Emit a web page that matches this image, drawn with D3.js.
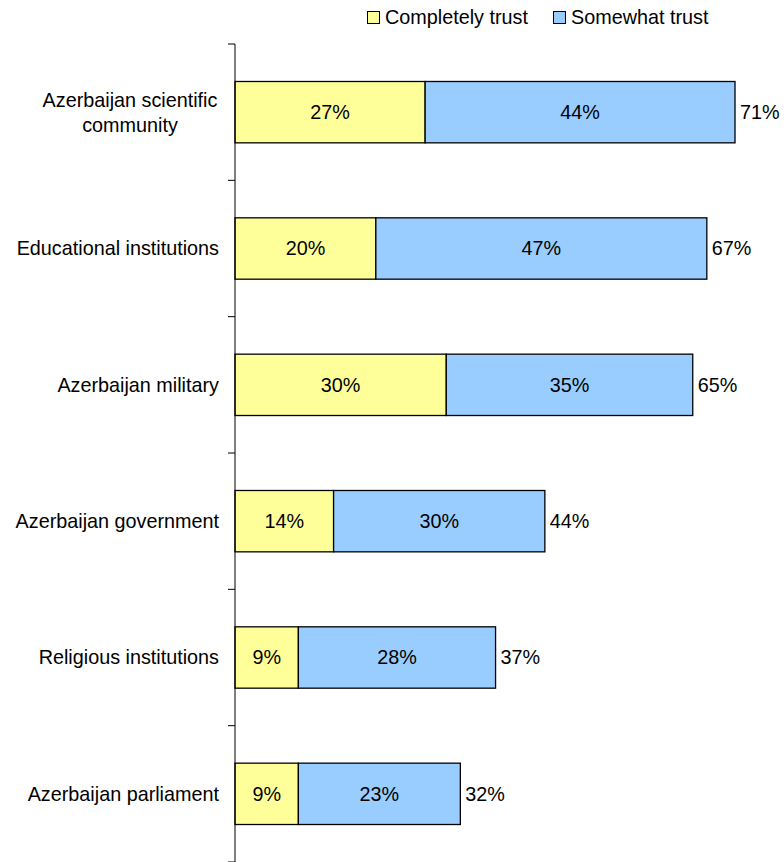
<!DOCTYPE html>
<html lang="en">
<head>
  <meta charset="UTF-8">
  <title>Trust in institutions</title>
  <script src="https://d3js.org/d3.v7.min.js"></script>
  <style>
    body { margin: 0; background: #ffffff; }
    svg text { font-family: "Liberation Sans", Arial, sans-serif; fill: #000; }
  </style>
</head>
<body>
  <svg id="chart" width="784" height="862"></svg>
  <script>
    // data
    const categories = [
      "Azerbaijan scientific community",
      "Educational institutions",
      "Azerbaijan military",
      "Azerbaijan government",
      "Religious institutions",
      "Azerbaijan parliament"
    ];
    const completely = [27, 20, 30, 14, 9, 9];
    const somewhat   = [44, 47, 35, 30, 28, 23];
    const totals     = [71, 67, 65, 44, 37, 32];
    const seriesNames = ["Completely trust", "Somewhat trust"];
    const colors = ["#ffff99", "#99ccff"];

    // label lines (wrapped as in original)
    const labelLines = {
      "Azerbaijan scientific community": ["Azerbaijan scientific", "community"]
    };

    const svg = d3.select("#chart");
    const fontSize = 19.8;

    const x = d3.scaleLinear().domain([0, 71]).range([235, 735]);
    const y = d3.scaleBand().domain(categories).range([44, 862]).paddingInner(0.55).paddingOuter(0.275);

    const rows = categories.map((c, i) => ({
      cat: c,
      parts: [
        { s: 0, x0: 0, x1: completely[i], v: completely[i] },
        { s: 1, x0: completely[i], x1: completely[i] + somewhat[i], v: somewhat[i] }
      ],
      total: totals[i]
    }));

    // bars
    const g = svg.selectAll("g.row").data(rows).enter().append("g").attr("class", "row");

    g.selectAll("rect")
      .data(d => d.parts.map(p => ({ ...p, cat: d.cat })))
      .enter()
      .append("rect")
      .attr("x", d => x(d.x0))
      .attr("y", d => y(d.cat))
      .attr("width", d => x(d.x1) - x(d.x0))
      .attr("height", y.bandwidth())
      .attr("fill", d => colors[d.s])
      .attr("stroke", "#000")
      .attr("stroke-width", 1.3);

    g.selectAll("text.seg")
      .data(d => d.parts.map(p => ({ ...p, cat: d.cat })))
      .enter()
      .append("text")
      .attr("class", "seg")
      .attr("x", d => (x(d.x0) + x(d.x1)) / 2)
      .attr("y", d => y(d.cat) + y.bandwidth() / 2)
      .attr("dy", "0.35em")
      .attr("text-anchor", "middle")
      .style("font-size", fontSize + "px")
      .text(d => d.v + "%");

    g.append("text")
      .attr("x", d => x(d.total) + 5)
      .attr("y", d => y(d.cat) + y.bandwidth() / 2)
      .attr("dy", "0.35em")
      .style("font-size", fontSize + "px")
      .text(d => d.total + "%");

    // category axis
    const axisX = x(0);
    svg.append("line")
      .attr("x1", axisX).attr("x2", axisX)
      .attr("y1", 44).attr("y2", 862)
      .attr("stroke", "#000").attr("stroke-width", 1);

    const step = y.step();
    d3.range(categories.length + 1).forEach(i => {
      const ty = 44 + i * step;
      svg.append("line")
        .attr("x1", axisX - 7).attr("x2", axisX)
        .attr("y1", ty).attr("y2", ty)
        .attr("stroke", "#000").attr("stroke-width", 1);
    });

    categories.forEach(c => {
      const lines = labelLines[c] || [c];
      const cy = y(c) + y.bandwidth() / 2;
      const t = svg.append("text")
        .style("font-size", fontSize + "px")
        .attr("text-anchor", lines.length > 1 ? "middle" : "end");
      const lx = lines.length > 1 ? 130 : 219;
      lines.forEach((ln, j) => {
        t.append("tspan")
          .attr("x", lx)
          .attr("y", cy + (j - (lines.length - 1) / 2) * 25)
          .attr("dy", "0.35em")
          .text(ln);
      });
    });

    // legend
    const legendX = [367.5, 553.5];
    seriesNames.forEach((name, i) => {
      svg.append("rect")
        .attr("x", legendX[i]).attr("y", 11.5)
        .attr("width", 12).attr("height", 12)
        .attr("fill", colors[i])
        .attr("stroke", "#000").attr("stroke-width", 1);
      svg.append("text")
        .attr("x", legendX[i] + 17.5).attr("y", 17)
        .attr("dy", "0.35em")
        .style("font-size", fontSize + "px")
        .text(name);
    });
  </script>
</body>
</html>
